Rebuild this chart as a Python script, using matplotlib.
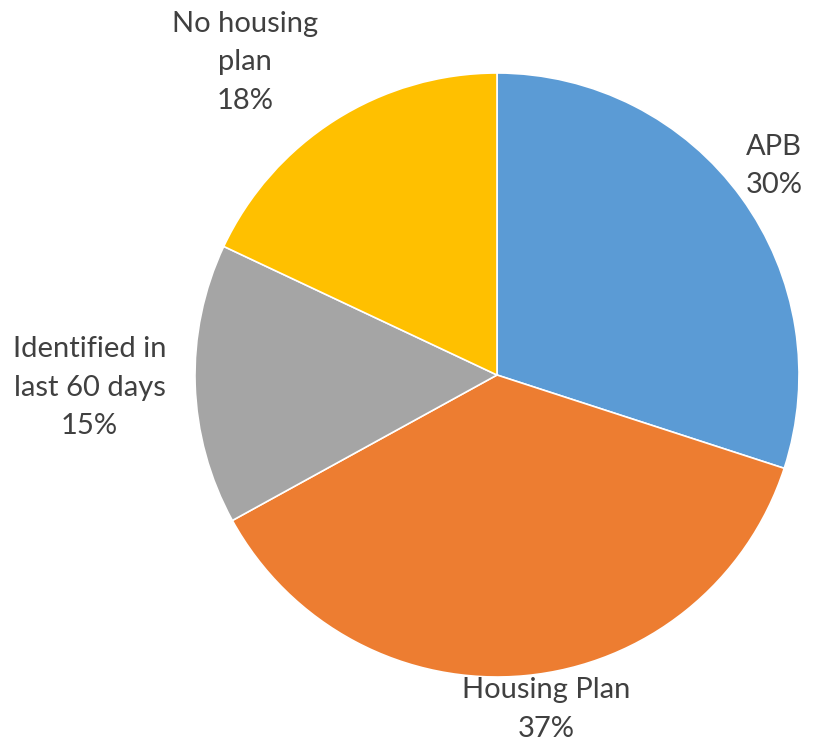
import numpy as np
import matplotlib.pyplot as plt

labels = ["APB", "Housing Plan", "Identified in\nlast 60 days", "No housing\nplan"]
shares = [30, 37, 15, 18]
colors = ["#5B9BD5", "#ED7D31", "#A5A5A5", "#FFC000"]
# label distance (in radii) and angle nudge (degrees) for each slice
label_dist = [1.15, 1.12, 1.35, 1.33]
label_nudge = [1, 3, 0, 6.5]

W, H = 823, 746
cx, cy, R = 497, 375, 302

fig = plt.figure(figsize=(W / 100, H / 100), dpi=100)
ax = fig.add_axes([0, 0, 1, 1])

wedges, _ = ax.pie(shares, colors=colors, startangle=90, counterclock=False,
                   radius=1.0, wedgeprops=dict(edgecolor="white", linewidth=1.2))

for w, lab, val, d, nud in zip(wedges, labels, shares, label_dist, label_nudge):
    ang = np.deg2rad((w.theta1 + w.theta2) / 2 + nud)
    ax.text(d * np.cos(ang), d * np.sin(ang), f"{lab}\n{val}%",
            ha="center", va="center", fontsize=21, family="Lato",
            color="#404040", linespacing=1.6)

ax.set_xlim(-cx / R, (W - cx) / R)
ax.set_ylim(-(H - cy) / R, cy / R)
ax.set_aspect("auto")
ax.axis("off")

fig.savefig("out.png", dpi=100, facecolor="white")
plt.close(fig)
